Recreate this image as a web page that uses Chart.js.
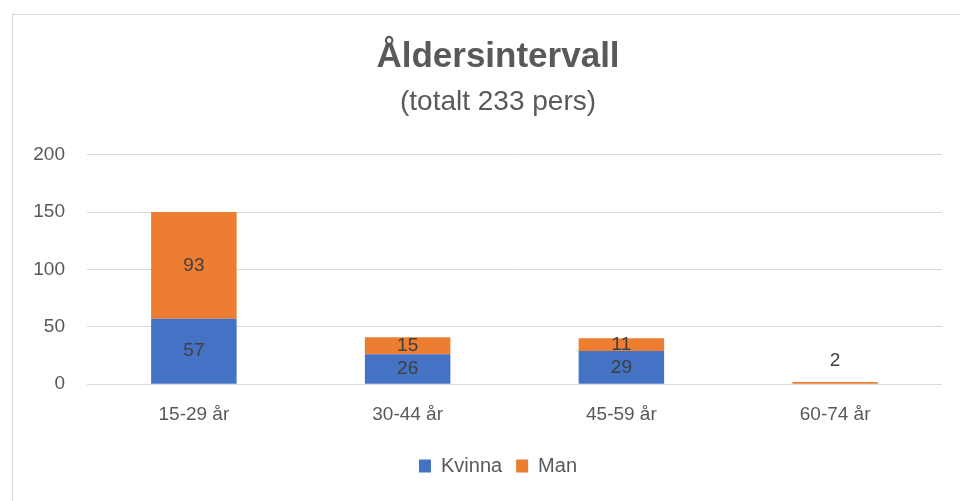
<!DOCTYPE html>
<html>
<head>
<meta charset="utf-8">
<script src="https://cdn.jsdelivr.net/npm/chart.js@4/dist/chart.umd.min.js"></script>
<style>
  html, body { margin: 0; padding: 0; background: #fff; }
  #wrap { position: relative; width: 960px; height: 501px; overflow: hidden; }
  #frame { position: absolute; left: 12px; top: 14px; width: 980px; height: 500px; border: 1px solid #d9d9d9; box-sizing: border-box; }
  canvas { position: absolute; left: 12px; top: 0; }
</style>
</head>
<body>
<div id="wrap">
  <div id="frame"></div>
  <canvas id="chart" width="972" height="501"></canvas>
</div>
<script>
const categories = ["15-29 år", "30-44 år", "45-59 år", "60-74 år"];
const kvinna = [57, 26, 29, 0];
const man = [93, 15, 11, 2];
const yTicks = [0, 50, 100, 150, 200];

const FONT = "'Liberation Sans', Arial, sans-serif";

// labels in the middle of each bar piece
const barLabels = {
  id: "barLabels",
  afterDatasetsDraw(chart) {
    const ctx = chart.ctx;
    ctx.save();
    ctx.font = "19px " + FONT;
    ctx.fillStyle = "#404040";
    ctx.textAlign = "center";
    ctx.textBaseline = "middle";
    chart.data.datasets.forEach((ds, i) => {
      chart.getDatasetMeta(i).data.forEach((bar, j) => {
        const v = ds.data[j];
        if (!v) return;
        const h = Math.abs(bar.base - bar.y);
        const y = h < 8 ? bar.y - 21 : (bar.y + bar.base) / 2;
        ctx.fillText(String(v), bar.x, y);
      });
    });
    ctx.restore();
  }
};

new Chart(document.getElementById("chart"), {
  type: "bar",
  data: {
    labels: categories,
    datasets: [
      { label: "Kvinna", data: kvinna, backgroundColor: "#4472C4" },
      { label: "Man", data: man, backgroundColor: "#ED7D31" }
    ]
  },
  options: {
    responsive: false,
    animation: false,
    barPercentage: 0.4,
    categoryPercentage: 1,
    layout: { padding: { left: 0, right: 0, top: 0, bottom: 15 } },
    plugins: {
      title: {
        display: true,
        text: "Åldersintervall",
        color: "#595959",
        font: { family: FONT, size: 35, weight: "bold" },
        padding: { top: 36, bottom: 7 }
      },
      subtitle: {
        display: true,
        text: "(totalt 233 pers)",
        color: "#595959",
        font: { family: FONT, size: 28 },
        padding: { top: 0, bottom: 36 }
      },
      legend: {
        position: "bottom",
        labels: {
          color: "#595959",
          font: { family: FONT, size: 20 },
          boxWidth: 12,
          boxHeight: 13,
          padding: 14
        }
      },
      tooltip: { enabled: false }
    },
    scales: {
      x: {
        stacked: true,
        grid: { display: false },
        border: { display: false },
        afterFit(scale) { scale.height += 5; },
        ticks: { color: "#595959", font: { family: FONT, size: 19 }, padding: 11 }
      },
      y: {
        stacked: true,
        min: 0,
        max: 200,
        afterBuildTicks(scale) { scale.ticks = yTicks.map(v => ({ value: v })); },
        afterFit(scale) { scale.width = 75; },
        grid: { color: "#d9d9d9", drawTicks: false },
        border: { display: false },
        ticks: { color: "#595959", font: { family: FONT, size: 19 }, padding: 22 }
      },
      // empty right axis, only keeps the plot off the right edge
      yRight: {
        position: "right",
        min: 0,
        max: 200,
        afterFit(scale) { scale.width = 42; },
        grid: { display: false },
        border: { display: false },
        ticks: { display: false }
      }
    }
  },
  plugins: [barLabels]
});
</script>
</body>
</html>
